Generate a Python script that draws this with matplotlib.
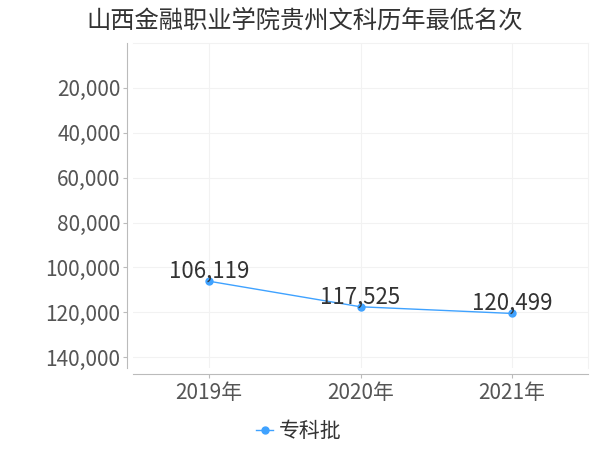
import matplotlib
matplotlib.use("Agg")
import matplotlib.pyplot as plt
from matplotlib.ticker import FuncFormatter

plt.rcParams['font.family'] = ['Noto Sans CJK SC', 'DejaVu Sans']

title = "山西金融职业学院贵州文科历年最低名次"
years = ["2019年", "2020年", "2021年"]
series_name = "专科批"
ranks = [106119, 117525, 120499]
yticks = [20000, 40000, 60000, 80000, 100000, 120000, 140000]

color = "#3fa2ff"

fig = plt.figure(figsize=(6, 4.5), dpi=100)
ax = fig.add_axes([133/600, 1-368/450, (588-133)/600, (368-43)/450])

x = list(range(len(years)))
ax.plot(x, ranks, color=color, lw=1.0, marker='o', markersize=5, label=series_name, zorder=3)
for xi, v in zip(x, ranks):
    ax.annotate(f"{v:,}", (xi, v), xytext=(0, -1), textcoords='offset points',
                ha='center', va='bottom', fontsize=16, color='#333333', zorder=4)

ax.set_xlim(-0.5, len(years) - 0.5)
ax.set_ylim(144800, 0)
ax.set_yticks(yticks)
ax.yaxis.set_major_formatter(FuncFormatter(lambda v, p: f"{int(v):,}"))
ax.set_xticks(x)
ax.set_xticklabels(years)

ax.grid(True, color='#f2f2f2', lw=0.8)
ax.set_axisbelow(True)
for s in ['top', 'right']:
    ax.spines[s].set_color('#f2f2f2')
    ax.spines[s].set_linewidth(0.8)
ax.spines['left'].set_position(('outward', 4))
ax.spines['bottom'].set_position(('outward', 4))
ax.spines['left'].set_color('#bbbbbb')
ax.spines['bottom'].set_color('#bbbbbb')
ax.tick_params(axis='y', labelsize=15, labelcolor='#555555', color='#bbbbbb', length=3, pad=2)
ax.tick_params(axis='x', labelsize=15, labelcolor='#555555', color='#bbbbbb', length=3, pad=3)

fig.text(0.507, 1-21/450, title, ha='center', va='center', fontsize=17.5,
         color='#333333')

leg = fig.legend(loc='center', bbox_to_anchor=(299/600, 1-431/450), frameon=False,
                 handlelength=0.8, handletextpad=0.3, prop={'size': 15})
for t in leg.get_texts():
    t.set_color('#333333')

fig.savefig("out.png", dpi=100)
